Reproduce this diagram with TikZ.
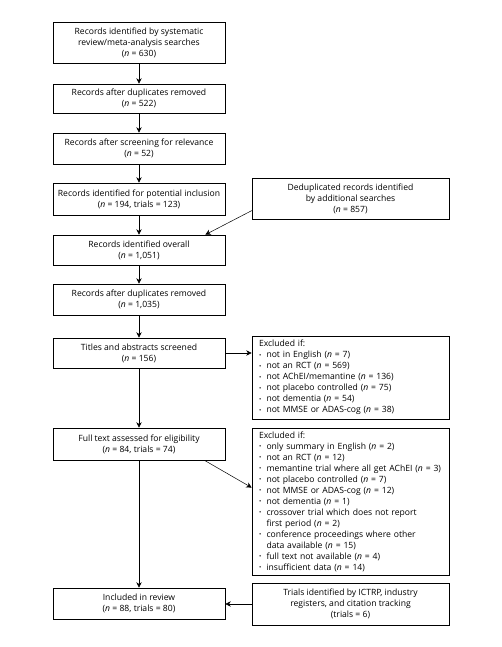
\documentclass[tikz,border=0pt]{standalone}
\usepackage{fontspec}
\setmainfont{Open Sans}
\usetikzlibrary{arrows.meta,calc}
\newcommand{\nn}{\textit{n}}
\newcommand{\bl}{\makebox[7.5pt][l]{\raisebox{0.3pt}{\scalebox{0.7}{•}}}}
\newcommand{\ind}{\hspace*{7.5pt}}
\begin{document}
\begin{tikzpicture}[x=1pt,y=-1pt,
  every node/.style={font=\fontsize{8.6pt}{11pt}\selectfont},
  box/.style={draw, line width=0.6pt, align=center, inner sep=0pt},
  lbox/.style={box, minimum width=172pt},
  rbox/.style={box, minimum width=197pt},
  listbox/.style={box, minimum width=197pt, align=left, text width=183pt, inner xsep=7pt},
  arr/.style={line width=0.5pt, -{Stealth[length=5.5pt,width=5.5pt]}}]
\useasboundingbox (0,0) rectangle (502,647);
\node[lbox, minimum height=41pt] (b1) at (139,42.5) {Records identified by systematic\\review/meta-analysis searches\\(\nn{} = 630)};
\node[lbox, minimum height=29pt] (b2) at (139,98.5) {Records after duplicates removed\\(\nn{} = 522)};
\node[lbox, minimum height=31pt] (b3) at (139,148.5) {Records after screening for relevance\\(\nn{} = 52)};
\node[lbox, minimum height=32pt] (b4) at (139,199) {Records identified for potential inclusion\\(\nn{} = 194, trials = 123)};
\node[lbox, minimum height=30pt] (b5) at (139,250) {Records identified overall\\(\nn{} = 1,051)};
\node[lbox, minimum height=31pt] (b6) at (139,299.5) {Records after duplicates removed\\(\nn{} = 1,035)};
\node[lbox, minimum height=30pt] (b7) at (139,353) {Titles and abstracts screened\\(\nn{} = 156)};
\node[lbox, minimum height=32pt] (b8) at (139,444) {Full text assessed for eligibility\\(\nn{} = 84, trials = 74)};
\node[lbox, minimum height=31pt] (b9) at (139,603.5) {Included in review\\(\nn{} = 88, trials = 80)};
\node[rbox, minimum height=41pt] (dedup) at (350.5,198.5) {Deduplicated records identified\\by additional searches\\(\nn{} = 857)};
\node[listbox, minimum height=83pt] (ex1) at (350.5,377.5) {Excluded if:\\
\bl not in English (\nn{} = 7)\\
\bl not an RCT (\nn{} = 569)\\
\bl not AChEI/memantine (\nn{} = 136)\\
\bl not placebo controlled (\nn{} = 75)\\
\bl not dementia (\nn{} = 54)\\
\bl not MMSE or ADAS-cog (\nn{} = 38)};
\node[listbox, minimum height=147pt] (ex2) at (350.5,501.5) {Excluded if:\\
\bl only summary in English (\nn{} = 2)\\
\bl not an RCT (\nn{} = 12)\\
\mbox{\bl memantine trial where all get AChEI (\nn{} = 3)}\\
\bl not placebo controlled (\nn{} = 7)\\
\bl not MMSE or ADAS-cog (\nn{} = 12)\\
\bl not dementia (\nn{} = 1)\\
\bl crossover trial which does not report\\
\ind first period (\nn{} = 2)\\
\bl conference proceedings where other\\
\ind data available (\nn{} = 15)\\
\bl full text not available (\nn{} = 4)\\
\bl insufficient data (\nn{} = 14)};
\node[rbox, minimum height=42pt] (trials) at (350.5,604) {Trials identified by ICTRP, industry\\registers, and citation tracking\\(trials = 6)};
\draw[arr] (b1) -- (b2);
\draw[arr] (b2) -- (b3);
\draw[arr] (b3) -- (b4);
\draw[arr] (b4) -- (b5);
\draw[arr] (b5) -- (b6);
\draw[arr] (b6) -- (b7);
\draw[arr] (b7) -- (b8);
\draw[arr] (b8) -- (b9);
\draw[arr] (dedup.187.8) -- (b5.13.4);
\draw[arr] (b7.east) -- (b7.east -| ex1.west);
\draw[arr] (b8.-14.7) -- (ex2.172.2);
\draw[arr] (trials.west) -- (trials.west -| b9.east);
\end{tikzpicture}
\end{document}
